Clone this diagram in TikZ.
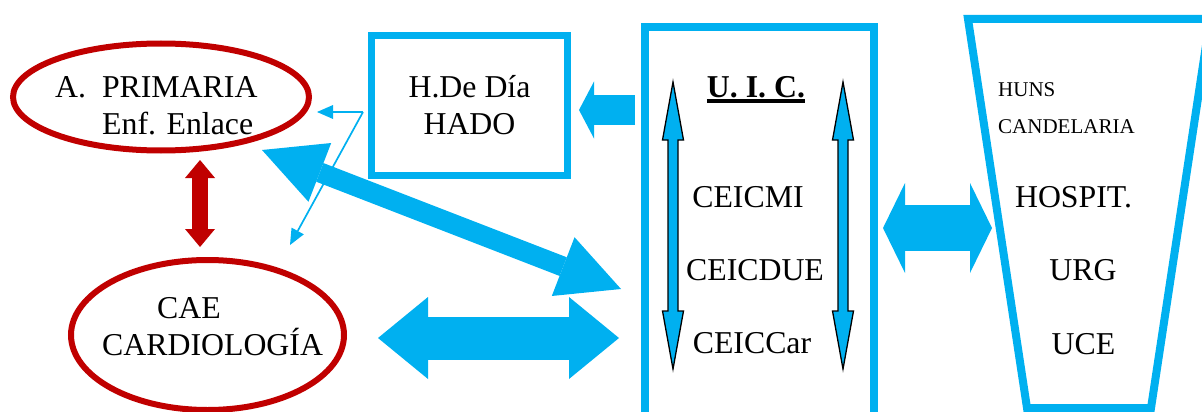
\documentclass[tikz,border=0pt]{standalone}
\usepackage{fontspec}
\setmainfont{Liberation Serif}
\usetikzlibrary{arrows.meta, shapes.geometric}

\definecolor{cblue}{RGB}{0,176,240}
\definecolor{cred}{RGB}{192,0,0}
\newcommand{\ulbold}[1]{\setbox0\hbox{\bfseries #1}\rlap{\rule[-6.3pt]{\wd0}{4pt}}\box0}

\tikzset{
	txt/.style={inner sep=0pt, font=\fontsize{31.8}{37}\selectfont},
	smalltxt/.style={inner sep=0pt, anchor=west, font=\fontsize{21}{25}\selectfont},
	redell/.style={ellipse, draw=cred, line width=6pt, inner sep=0pt},
	bluebox/.style={draw=cblue, line width=7pt, inner sep=0pt},
	thinarrow/.style={cblue, line width=1.7pt, -{Triangle[length=16pt, width=14pt, line width=0pt]}},
}

\begin{document}
\begin{tikzpicture}[x=1pt, y=-1pt]
	\useasboundingbox (0,0) rectangle (1202,412);
	\node[redell, minimum width=296pt, minimum height=107pt] (prim) at (161,97) {};	%primaria
	\node[redell, minimum width=273pt, minimum height=150pt] (cae) at (207.5,335) {};	%cae
	\node[txt, align=left, anchor=west] (primtxt) at (55,105.5) {A.~~PRIMARIA\\\hspace*{47pt}Enf. Enlace};
	\node[txt, align=left, anchor=west] (caetxt) at (102,326.5) {\hspace*{55pt}CAE\\CARDIOLOGÍA};
	\node[bluebox, txt, align=center, minimum width=196pt, minimum height=140pt] (hado) at (469.5,105.5) {H.De Día\\HADO};
	\node[bluebox, line width=8pt, minimum width=228.5pt, minimum height=406pt] (uic) at (759.25,230) {};	%uic, open below
	\draw[cblue, line width=8pt] (968,19) -- (1210,19) -- (1151,408) -- (1027,408) -- cycle;	%hospital

	\node[txt, anchor=base] (uictit) at (756,97) {\ulbold{U. I. C.}};
	\node[txt] (ceicmi) at (748,197) {CEICMI};
	\node[txt] (ceicdue) at (755,270) {CEICDUE};
	\node[txt] (ceiccar) at (752,343.5) {CEICCar};
	\node[smalltxt] (huns) at (998,90) {HUNS};
	\node[smalltxt] (cand) at (998,127) {CANDELARIA};
	\node[txt] (hospit) at (1073.5,197) {HOSPIT.};
	\node[txt] (urg) at (1083,270) {URG};
	\node[txt] (uce) at (1083.5,344) {UCE};

	\foreach \x in {673,843}		%arrows inside uic
		\filldraw[fill=cblue, draw=black, line width=1.3pt] (\x,82) -- (\x+10.5,140) -- (\x+5,140) -- (\x+5,311) -- (\x+10.5,311) -- (\x,369) -- (\x-10.5,311) -- (\x-5,311) -- (\x-5,140) -- (\x-10.5,140) -- cycle;

	\coordinate (redtop) at (200,160);
	\coordinate (redbot) at (200,247);
	\coordinate (hadoout) at (363,112);
	\coordinate (primin) at (317,112);
	\coordinate (caein) at (290,245);
	\coordinate (primdiag) at (262,150);
	\coordinate (uicdiag) at (621,289);
	\coordinate (caehor) at (378,338);
	\coordinate (uichor) at (619,338);
	\coordinate (uicout) at (635,110);
	\coordinate (hadoin) at (579,110);
	\coordinate (uicright) at (883,228);
	\coordinate (hospin) at (992,228);

	\draw[cred, line width=16pt, {Triangle[length=18pt, width=30pt, line width=0pt]}-{Triangle[length=18pt, width=30pt, line width=0pt]}] (redtop) -- (redbot);
	\draw[thinarrow] (hadoout) -- (primin);
	\draw[thinarrow] (hadoout) -- (caein);
	\draw[cblue, line width=20pt, {Triangle[length=62pt, width=63pt, line width=0pt]}-{Triangle[length=62pt, width=63pt, line width=0pt]}] (primdiag) -- (uicdiag);
	\draw[cblue, line width=43pt, {Triangle[length=50pt, width=82pt, line width=0pt]}-{Triangle[length=50pt, width=82pt, line width=0pt]}] (caehor) -- (uichor);
	\draw[cblue, line width=30pt, -{Triangle[length=15pt, width=57pt, line width=0pt]}] (uicout) -- (hadoin);
	\draw[cblue, line width=46pt, {Triangle[length=22pt, width=90pt, line width=0pt]}-{Triangle[length=22pt, width=90pt, line width=0pt]}] (uicright) -- (hospin);
\end{tikzpicture}
\end{document}
